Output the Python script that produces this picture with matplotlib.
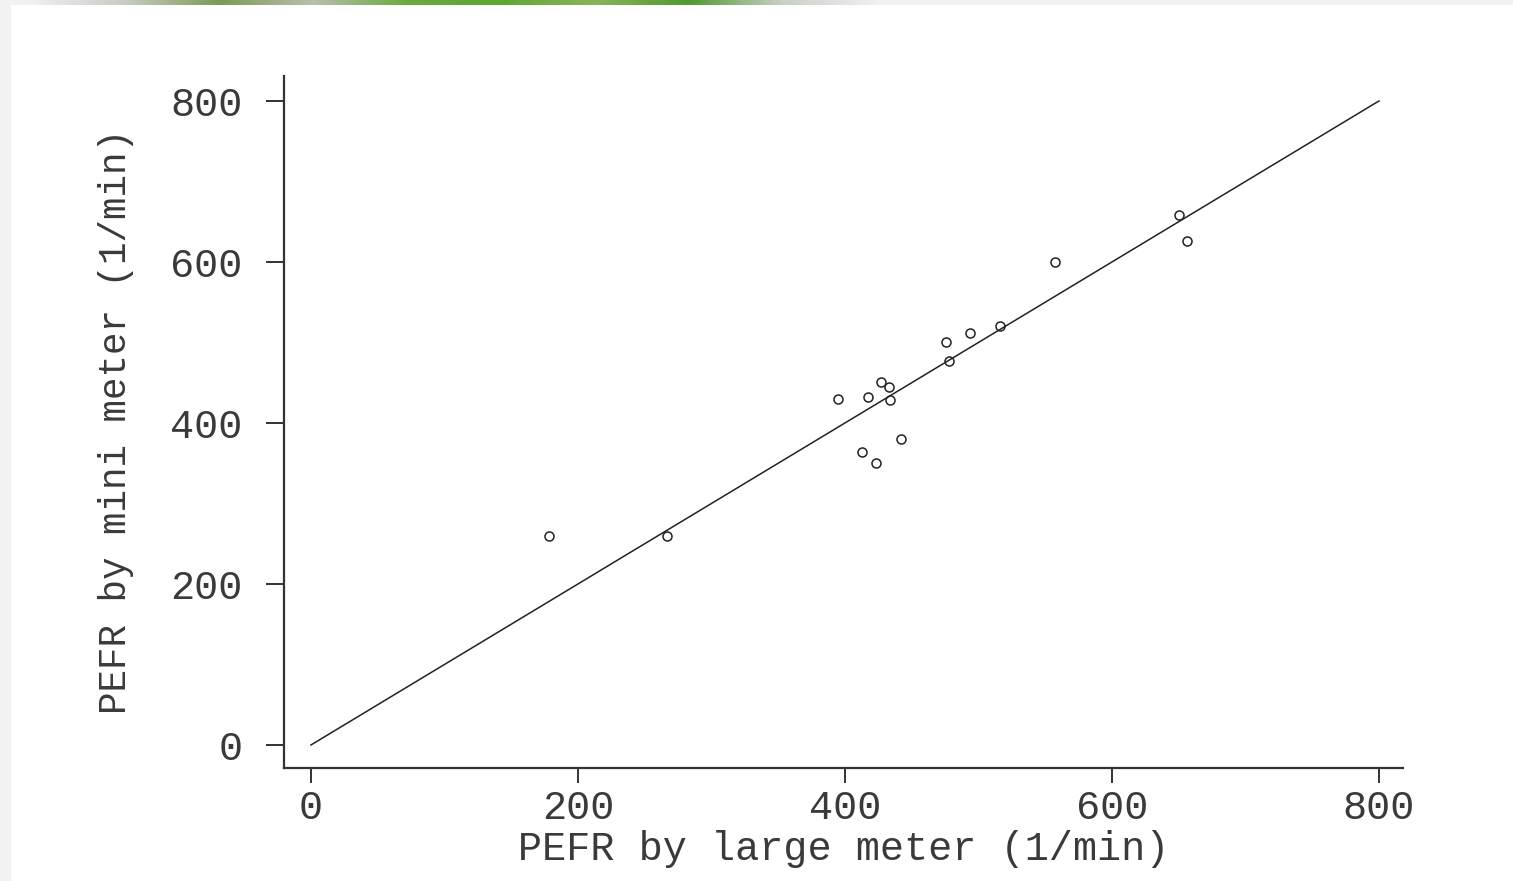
import numpy as np
import matplotlib
matplotlib.use("Agg")
import matplotlib.pyplot as plt
from matplotlib.patches import Rectangle
from matplotlib.colors import LinearSegmentedColormap

# PEFR (l/min) measured with the large and the mini Wright meter
large_meter = [494, 395, 516, 434, 476, 557, 413, 442, 650, 433, 417, 656, 267, 478, 178, 423, 427]
mini_meter = [512, 430, 520, 428, 500, 600, 364, 380, 658, 445, 432, 626, 260, 477, 259, 350, 451]
line_of_equality = [0, 800]
ticks = [0, 200, 400, 600, 800]

plt.rcParams['font.family'] = ['Liberation Mono', 'DejaVu Sans Mono']

fig = plt.figure(figsize=(15.13, 8.81), dpi=100, facecolor='#f2f2f2')

# white page panel and the green banner strip at the top
fig.patches.append(Rectangle((11 / 1513, 0), 1 - 11 / 1513, 1 - 5 / 881,
                             transform=fig.transFigure, facecolor='white',
                             edgecolor='none', zorder=-10))
banner = fig.add_axes([0.02, 1 - 5 / 881, 0.56, 5 / 881])
cmap = LinearSegmentedColormap.from_list('banner', ['#f0f0f0', '#c8ccc4', '#7d9a55', '#b9bfae',
                                                    '#6aaa3c', '#5ea832', '#8ab35a', '#4f9a2e',
                                                    '#c9d0c6', '#f0f0f0'])
banner.imshow(np.linspace(0, 1, 256)[None, :], aspect='auto', cmap=cmap)
banner.set_axis_off()

ax = fig.add_axes([284 / 1513, 113 / 881, (1403 - 284) / 1513, (768 - 76) / 881])
ax.set_facecolor('none')

ax.plot(line_of_equality, line_of_equality, color='#222222', lw=1.1)
ax.plot(large_meter, mini_meter, 'o', mfc='none', mec='#222222', ms=6.5, mew=1.1)

ax.set_xlim(-20.2, 818)
ax.set_ylim(-28.6, 831)
ax.set_xticks(ticks)
ax.set_yticks(ticks)

for side in ['top', 'right']:
    ax.spines[side].set_visible(False)
for side in ['left', 'bottom']:
    ax.spines[side].set_linewidth(1.6)
    ax.spines[side].set_color('#333333')

ax.tick_params(axis='y', direction='out', length=13, width=1.4, color='#333333',
               labelsize=29, pad=17, labelcolor='#3a3a3a')
ax.tick_params(axis='x', direction='out', length=11, width=1.4, color='#333333',
               labelsize=29, pad=4, labelcolor='#3a3a3a')

ax.set_xlabel('PEFR by large meter (1/min)', fontsize=29, color='#3a3a3a', labelpad=2)
ax.set_ylabel('PEFR by mini meter (1/min)', fontsize=27, color='#3a3a3a', labelpad=26)

fig.savefig('out.png', dpi=100, facecolor=fig.get_facecolor())
